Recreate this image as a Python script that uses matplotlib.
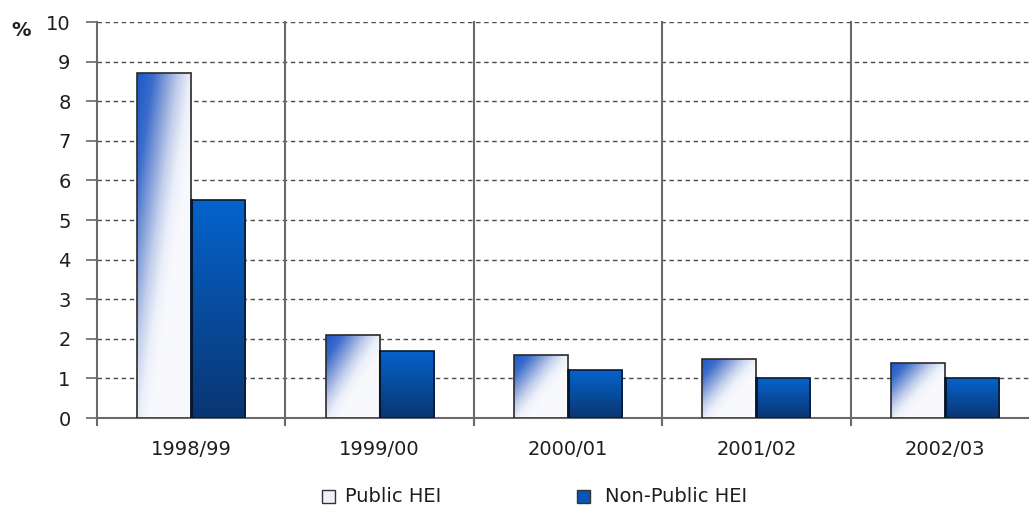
import numpy as np
import matplotlib
matplotlib.use("Agg")
import matplotlib.pyplot as plt
from matplotlib.colors import LinearSegmentedColormap
from matplotlib.patches import Rectangle

plt.rcParams['font.family'] = ['DejaVu Sans']

years = ["1998/99", "1999/00", "2000/01", "2001/02", "2002/03"]
public_hei = [8.7, 2.1, 1.6, 1.5, 1.4]
non_public_hei = [5.5, 1.7, 1.2, 1.0, 1.0]
series_names = ["Public HEI", "Non-Public HEI"]
y_ticks = list(range(0, 11))

W, H = 1029, 507
fig = plt.figure(figsize=(W / 100, H / 100), dpi=100)
# axes run from the y axis to one full category past the right figure edge
ax = fig.add_axes([97 / W, 1 - 418 / H, 942 / W, 396 / H])
ax.set_xlim(-0.5, len(years) - 0.5)
ax.set_ylim(0, 10)

axis_grey = "#6a6a6a"
txt = "#1e1e1e"
for s in ("top", "right"):
    ax.spines[s].set_visible(False)
for s in ("left", "bottom"):
    ax.spines[s].set_color(axis_grey)
    ax.spines[s].set_linewidth(1.5)

ax.set_yticks(y_ticks)
ax.set_yticklabels([str(v) for v in y_ticks], fontsize=14, color=txt)
ax.tick_params(axis="y", length=8, width=1.2, color=axis_grey, pad=11)
ax.set_xticks(range(len(years)))
ax.set_xticklabels(years, fontsize=14, color=txt)
ax.tick_params(axis="x", length=0, pad=16)

# dashed horizontal grid
for v in y_ticks[1:]:
    ax.axhline(v, color="#4a4a4a", lw=1.0, ls=(0, (3.2, 2.6)), zorder=1)

# category separators reaching slightly below the baseline
for i in range(1, len(years)):
    ax.plot([i - 0.5, i - 0.5], [-0.18, 10], color=axis_grey, lw=1.5,
            clip_on=False, zorder=2)
ax.plot([-0.5, -0.5], [-0.18, 0], color=axis_grey, lw=1.5, clip_on=False, zorder=2)

bar_w = 0.287

pub_cmap = LinearSegmentedColormap.from_list(
    "pub", [(0.0, "#1c58c6"), (0.25, "#3a6ccb"), (0.48, "#8aa3db"),
            (0.66, "#c4d0ec"), (0.84, "#ecf0f9"), (1.0, "#f8f9fd")])
np_cmap = LinearSegmentedColormap.from_list(
    "np", [(0.0, "#0a3672"), (1.0, "#0563cc")])

# diagonal gradient: strongest in top-left corner, white towards bottom-right
gy, gx = np.mgrid[0:1:300j, 0:1:300j]
diag = np.clip(0.85 * gx + 0.8 * (1 - gy), 0, 1)
vert = gy

x = np.arange(len(years))
pub_bars = ax.bar(x - bar_w / 2, public_hei, bar_w, facecolor="none",
                  edgecolor="#2a2a2a", lw=1.2, zorder=4)
np_bars = ax.bar(x + bar_w / 2, non_public_hei, bar_w, facecolor="none",
                 edgecolor="#0b1a33", lw=1.2, zorder=4)

for bar in pub_bars:
    x0, w, h = bar.get_x(), bar.get_width(), bar.get_height()
    im = ax.imshow(diag, cmap=pub_cmap, origin="lower", aspect="auto",
                   extent=(x0, x0 + w, 0, h), zorder=3, interpolation="bilinear")
    im.set_clip_path(bar)
for bar in np_bars:
    x0, w, h = bar.get_x(), bar.get_width(), bar.get_height()
    im = ax.imshow(vert, cmap=np_cmap, origin="lower", aspect="auto",
                   extent=(x0, x0 + w, 0, h), zorder=3, interpolation="bilinear")
    im.set_clip_path(bar)
    # darker left edge
    ax.plot([x0 + 0.004, x0 + 0.004], [0, h], color="#061830", lw=1.5, zorder=4)

ax.set_xlim(-0.5, len(years) - 0.5)
ax.set_ylim(0, 10)

fig.text(11 / W, 1 - 31 / H, "%", fontsize=14, fontweight="bold",
         color=txt, va="center", ha="left")

# legend
leg_items = [(322, "#eef1fa", series_names[0], 345),
             (577, "#0a55b5", series_names[1], 605)]
for px, c1, label, tx in leg_items:
    r = Rectangle((px / W, 1 - 503 / H), 13 / W, 13 / H, transform=fig.transFigure,
                  facecolor=c1, edgecolor="#333333", lw=1.0)
    fig.patches.append(r)
    fig.text(tx / W, 1 - 496 / H, label, fontsize=14, color=txt,
             va="center", ha="left")

fig.savefig("out.png", dpi=100)
